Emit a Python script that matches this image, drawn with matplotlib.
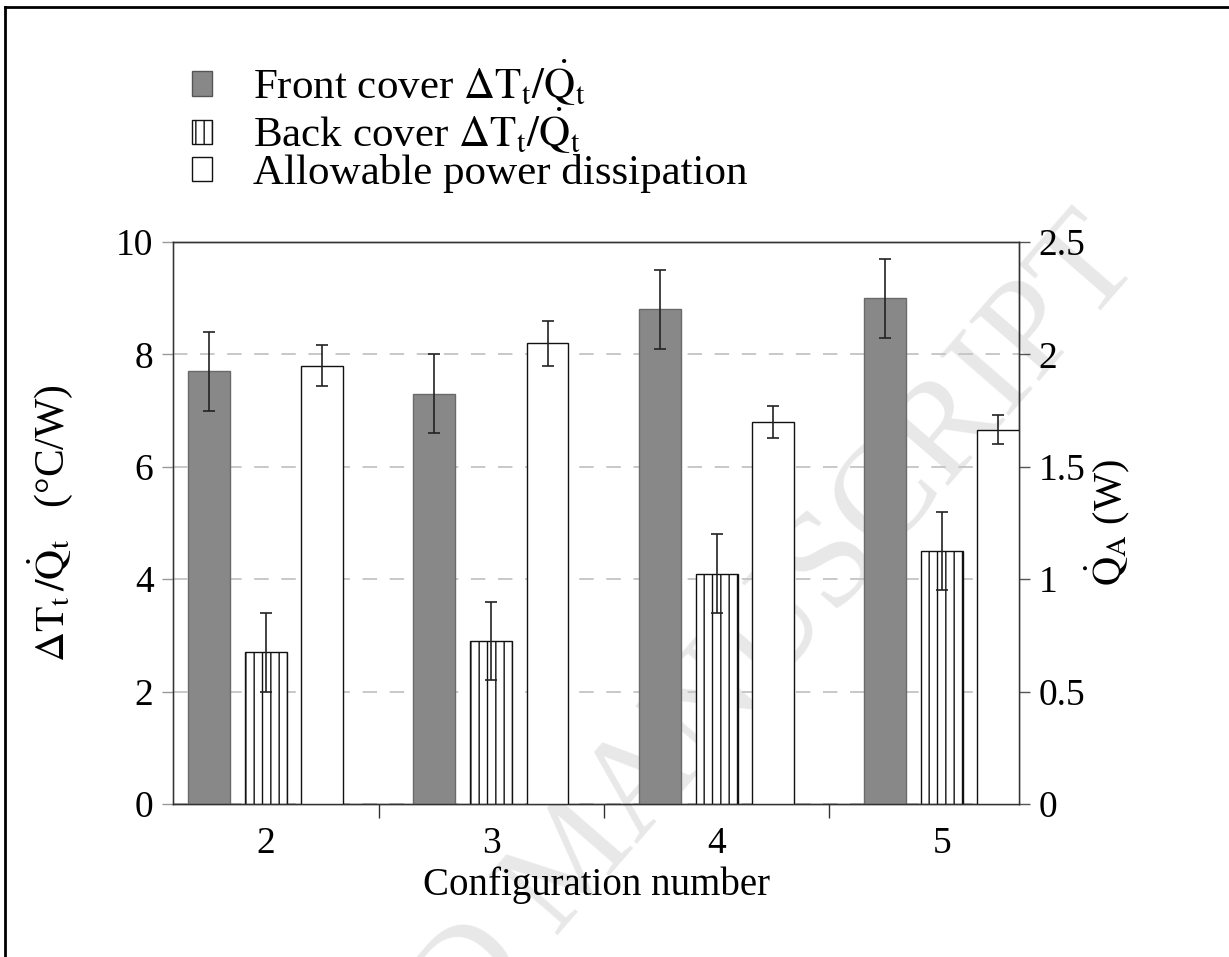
import numpy as np
import matplotlib.pyplot as plt
from matplotlib.patches import Patch
from matplotlib.lines import Line2D

configs = ['2', '3', '4', '5']
front = [7.7, 7.3, 8.8, 9.0]          # front cover dT/Q (C/W)
front_err = [0.7, 0.7, 0.7, 0.7]
back = [2.7, 2.9, 4.1, 4.5]           # back cover dT/Q (C/W)
back_err = [0.7, 0.7, 0.7, 0.7]
allowable = [1.95, 2.05, 1.70, 1.665]  # allowable power dissipation (W)
allowable_err = [0.09, 0.10, 0.07, 0.065]

plt.rcParams['font.family'] = ['Liberation Serif', 'DejaVu Serif']
plt.rcParams['mathtext.fontset'] = 'stix'
plt.rcParams['hatch.linewidth'] = 1.0

fig = plt.figure(figsize=(12.29, 9.57), dpi=100)
ax = fig.add_axes([0.1408, 0.1599, 0.6884, 0.5872])
ax.set_facecolor('none')
ax2 = ax.twinx()
ax2.set_facecolor('none')

# faint watermark behind everything
fig.text(0.47, 0.10, 'ACCEPTED MANUSCRIPT', rotation=49, rotation_mode='anchor',
         ha='center', va='center', fontsize=100, color='#e8e8e8', zorder=-5)

x = np.arange(len(configs))
w = 0.186
ekw = dict(ecolor='#222222', elinewidth=1.2, capsize=4, capthick=1.2)

ax.bar(x - 0.253, front, w, yerr=front_err, color='#888888', edgecolor='#6a6a6a',
       linewidth=1, error_kw=ekw, zorder=3)
ax.bar(x, back, w, yerr=back_err, color='white', edgecolor='#111111', hatch='||',
       linewidth=1, error_kw=ekw, zorder=3)
ax2.bar(x + 0.249, allowable, w, yerr=allowable_err, color='white', edgecolor='#111111',
        linewidth=1, error_kw=ekw, zorder=3)

ax.set_xlim(-0.413, 3.342)
ax.set_ylim(0, 10)
ax2.set_ylim(0, 2.5)
ax.set_yticks([0, 2, 4, 6, 8, 10])
ax2.set_yticks([0, 0.5, 1, 1.5, 2, 2.5])
ax2.set_yticklabels(['0', '0.5', '1', '1.5', '2', '2.5'])
ax.set_xticks(x)
ax.set_xticklabels(configs)
ax.set_xticks([0.5, 1.5, 2.5], minor=True)
ax.tick_params(axis='x', which='major', length=0, pad=16, labelsize=27)
ax.tick_params(axis='x', which='minor', length=10, width=1, color='#333333', direction='out')
ax.tick_params(axis='y', length=8, width=1, color='#999999', labelsize=27, pad=6)
ax2.tick_params(axis='y', length=8, width=1, color='#555555', labelsize=27, pad=6)

ax.yaxis.grid(True, linestyle=(0, (8, 7)), color='#c4c4c4', linewidth=1.3, zorder=0)
ax.set_axisbelow(True)

for a in (ax, ax2):
    for s in a.spines.values():
        s.set_color('#333333')
        s.set_linewidth(1)
ax.spines['left'].set_color('#888888')

ax.set_xlabel('Configuration number', fontsize=28, labelpad=4)
ax.set_ylabel(r'$\Delta\mathrm{T_t}\,/\dot{\mathrm{Q}}_\mathrm{t}$   (°C/W)', fontsize=30, labelpad=30)
ax2.set_ylabel(r'$\dot{\mathrm{Q}}_\mathrm{A}$ (W)', fontsize=29, labelpad=-2)

handles = [
    Patch(facecolor='#888888', edgecolor='#555555'),
    Patch(facecolor='white', edgecolor='#111111', hatch='||'),
    Patch(facecolor='white', edgecolor='#111111'),
]
labels = [
    r'Front cover $\Delta\mathrm{T_t}/\dot{\mathrm{Q}}_\mathrm{t}$',
    r'Back cover $\Delta\mathrm{T_t}/\dot{\mathrm{Q}}_\mathrm{t}$',
    'Allowable power dissipation',
]
fig.legend(handles, labels, loc='upper left', bbox_to_anchor=(0.142, 0.958),
           frameon=False, fontsize=31, handlelength=0.47, handleheight=0.5,
           handletextpad=0.95, labelspacing=-0.04, borderaxespad=0)

# border lines at top and left of the page
fig.add_artist(Line2D([0.004, 1.0], [0.9927, 0.9927], transform=fig.transFigure,
                      color='black', linewidth=2))
fig.add_artist(Line2D([0.004, 0.004], [0.0, 0.9927], transform=fig.transFigure,
                      color='black', linewidth=2))

fig.savefig('out.png', dpi=100)
